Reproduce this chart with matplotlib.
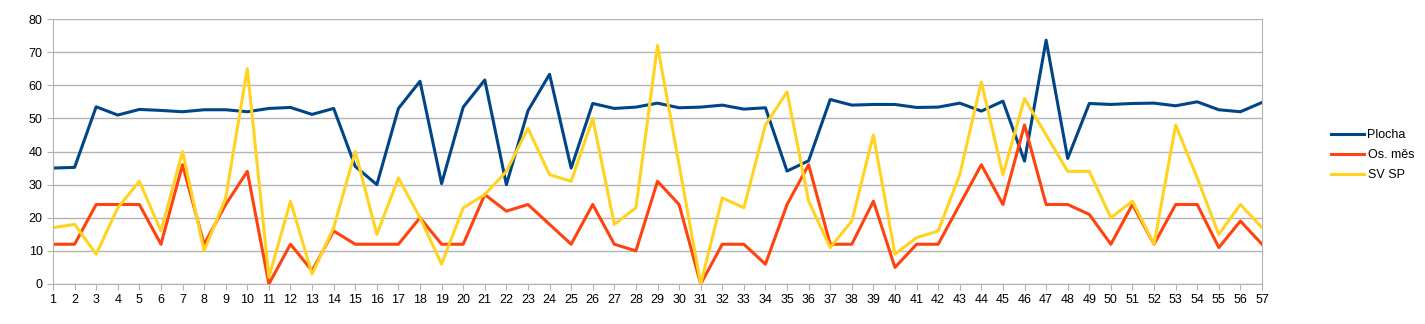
import matplotlib.pyplot as plt

plt.rcParams['font.family'] = ['Liberation Sans', 'DejaVu Sans']

# x categories 1..57
days = list(range(1, 58))

plocha = [35, 35.2, 53.5, 51, 52.7, 52.4, 52, 52.6, 52.6, 52,
          53, 53.3, 51.2, 53, 35.5, 30, 53, 61.2, 30.3, 53.4,
          61.6, 30, 52.3, 63.3, 35, 54.5, 53, 53.4, 54.6, 53.2,
          53.4, 54, 52.8, 53.2, 34.1, 37.2, 55.7, 54, 54.2, 54.2,
          53.3, 53.4, 54.6, 52.2, 55.2, 37.1, 73.6, 37.9, 54.5, 54.2,
          54.5, 54.6, 53.8, 55, 52.6, 52, 54.8]

os_mes = [12, 12, 24, 24, 24, 12, 36, 12, 24, 34,
          0, 12, 4, 16, 12, 12, 12, 20, 12, 12,
          27, 22, 24, 18, 12, 24, 12, 10, 31, 24,
          0, 12, 12, 6, 24, 36, 12, 12, 25, 5,
          12, 12, 24, 36, 24, 48, 24, 24, 21, 12,
          24, 12, 24, 24, 11, 19, 12]

sv_sp = [17, 18, 9, 23, 31, 16, 40, 10, 26, 65,
         2, 25, 3, 17, 40, 15, 32, 20, 6, 23,
         27, 34, 47, 33, 31, 50, 18, 23, 72, 36,
         0, 26, 23, 48, 58, 25, 11, 19, 45, 9,
         14, 16, 33, 61, 33, 56, 45, 34, 34, 20,
         25, 12, 48, 32, 15, 24, 17]

fig = plt.figure(figsize=(14.25, 3.24), dpi=100)
ax = fig.add_axes([53 / 1425, 40 / 324, 1209 / 1425, 265 / 324])

ax.plot(days, plocha, color='#004586', lw=2.2, label='Plocha')
ax.plot(days, os_mes, color='#ff420e', lw=2.2, label='Os. měs')
ax.plot(days, sv_sp, color='#ffd320', lw=2.2, label='SV SP')

ax.set_xlim(1, 57)
ax.set_ylim(0, 80)
ax.set_xticks(days)
ax.set_yticks(range(0, 81, 10))
ax.yaxis.grid(True, color='#b3b3b3', lw=1)
ax.set_axisbelow(True)
for s in ax.spines.values():
    s.set_color('#b3b3b3')
ax.spines['top'].set_visible(False)
ax.tick_params(colors='#b3b3b3', labelcolor='black', labelsize=9, length=4)

fig.legend(loc='center left', bbox_to_anchor=(1320 / 1425, 1 - 155 / 324),
           frameon=False, fontsize=9, handlelength=2.6, labelspacing=0.65,
           handletextpad=0.3)

fig.savefig('out.png', dpi=100)
